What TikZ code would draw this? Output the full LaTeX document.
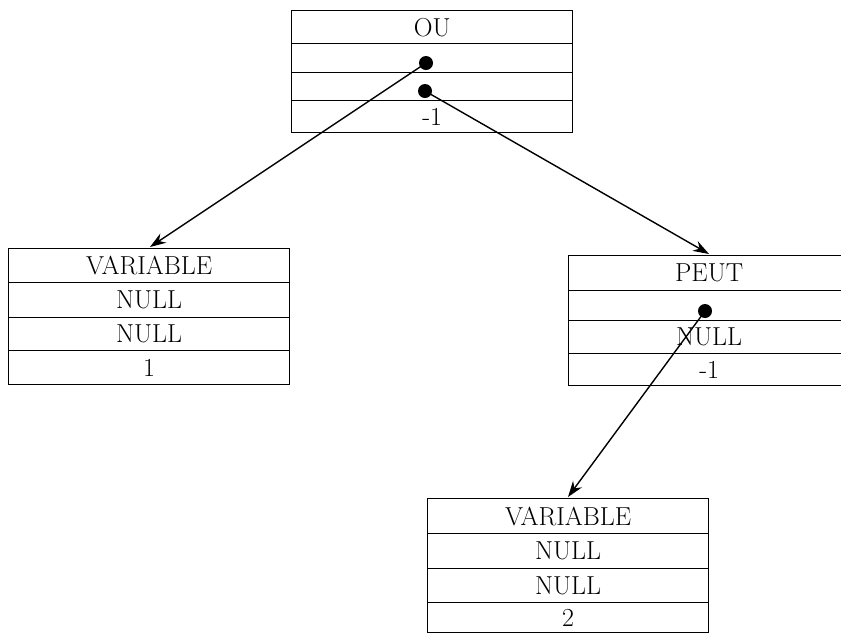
\documentclass[tikz,border=0pt]{standalone}
\usetikzlibrary{arrows.meta,calc}
\begin{document}
\begin{tikzpicture}[x=1pt,y=-1pt,
  cell/.style={draw, line width=1.3pt, minimum width=281pt, minimum height=#1,
    inner sep=0pt, anchor=north west, font=\fontsize{26}{30}\selectfont},
  dot/.style={circle, fill=black, inner sep=0pt, minimum size=14pt},
  link/.style={line width=1.4pt, -{Stealth[length=16pt,width=11pt]}}]
\useasboundingbox (0,0) rectangle (841,633);
\clip (0,0) rectangle (841,633);
% OU
\node[cell=33pt] (ou1) at (291,10) {OU};
\node[cell=29pt] (ou2) at (291,43) {};
\node[cell=28pt] (ou3) at (291,72) {};
\node[cell=32pt] (ou4) at (291,100) {-1};
% VARIABLE left
\node[cell=34pt] (va1) at (8,248) {VARIABLE};
\node[cell=35pt] (va2) at (8,282) {NULL};
\node[cell=33pt] (va3) at (8,317) {NULL};
\node[cell=34pt] (va4) at (8,350) {1};
% PEUT
\node[cell=35pt] (pe1) at (568,255) {PEUT};
\node[cell=30pt] (pe2) at (568,290) {};
\node[cell=33pt] (pe3) at (568,320) {NULL};
\node[cell=32pt] (pe4) at (568,353) {-1};
% VARIABLE bottom
\node[cell=35pt] (vb1) at (427,498) {VARIABLE};
\node[cell=35pt] (vb2) at (427,533) {NULL};
\node[cell=34pt] (vb3) at (427,568) {NULL};
\node[cell=30pt] (vb4) at (427,602) {2};
% dots
\node[dot] (d1) at (426,63) {};
\node[dot] (d2) at (425,91) {};
\node[dot] (d3) at (705,311) {};
% targets
\coordinate (t1) at ($(va1.north west)+(142,-1)$);
\coordinate (t2) at ($(pe1.north west)+(141,-1)$);
\coordinate (t3) at ($(vb1.north west)+(141,-1)$);
\draw[link] (d1.center) -- (t1);
\draw[link] (d2.center) -- (t2);
\draw[link] (d3.center) -- (t3);
\end{tikzpicture}
\end{document}
